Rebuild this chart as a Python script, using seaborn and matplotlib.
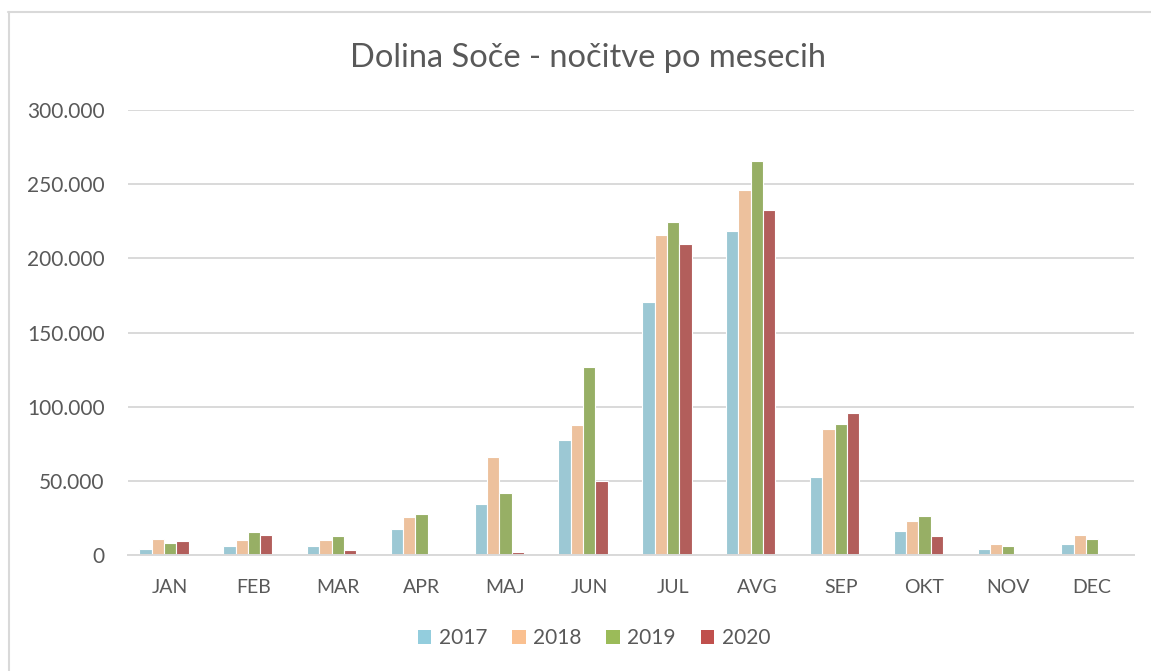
import numpy as np
import pandas as pd
import matplotlib
matplotlib.use("Agg")
import matplotlib.pyplot as plt
from matplotlib.lines import Line2D
from matplotlib.patches import Patch
from matplotlib.ticker import FuncFormatter
import seaborn as sns

# ========================
# DATA
# ========================
months = ["JAN", "FEB", "MAR", "APR", "MAJ", "JUN",
          "JUL", "AVG", "SEP", "OKT", "NOV", "DEC"]
years = ["2017", "2018", "2019", "2020"]

n2017 = [3900, 5900, 5900, 17700, 34200, 77300, 170700, 218400, 52400, 16200, 4000, 7400]
n2018 = [10800, 10100, 10100, 25600, 66000, 87800, 215700, 246100, 85200, 22900, 7400, 13500]
n2019 = [8300, 15300, 12800, 27400, 42000, 126800, 224500, 265800, 88600, 26300, 5900, 10800]
n2020 = [9200, 13500, 3150, np.nan, 2200, 49900, 209600, 232300, 95600, 12600, np.nan, np.nan]

colors = ["#93CDDD", "#FAC090", "#9BBB59", "#C0504D"]

rows = []
for year, vals in zip(years, [n2017, n2018, n2019, n2020]):
    for m, v in zip(months, vals):
        rows.append({"mesec": m, "leto": year, "nocitve": v})
df = pd.DataFrame(rows).dropna()

# ========================
# STYLE
# ========================
sns.set_style("white")
plt.rcParams["font.family"] = ["Lato", "DejaVu Sans"]
text_col = "#595959"
grid_col = "#D9D9D9"

fig = plt.figure(figsize=(11.51, 6.71), dpi=100)
ax = fig.add_axes([0.1115, 0.1729, 0.9852 - 0.1115, 0.836 - 0.1729])

# Excel chart keeps an empty 5th slot in each group
hue_order = years + [" "]
palette = colors + ["#FFFFFF"]
sns.barplot(data=df, x="mesec", y="nocitve", hue="leto", order=months,
            hue_order=hue_order, palette=palette, width=0.734,
            edgecolor="white", linewidth=0.8, legend=False, ax=ax)

ax.set_ylim(0, 300000)
ax.set_xlim(-0.5, 11.5)
ax.set_yticks(np.arange(0, 300001, 50000))
ax.yaxis.set_major_formatter(FuncFormatter(
    lambda v, p: "0" if v == 0 else f"{int(v):,}".replace(",", ".")))
ax.grid(axis="y", color=grid_col, linewidth=1.4)
ax.set_axisbelow(True)
for s in ["top", "right", "left"]:
    ax.spines[s].set_visible(False)
ax.spines["bottom"].set_color(grid_col)
ax.spines["bottom"].set_linewidth(1.4)
ax.tick_params(axis="x", length=0, labelsize=14, colors=text_col, pad=17)
ax.tick_params(axis="y", length=0, labelsize=15, colors=text_col, pad=17)
ax.set_xlabel("")
ax.set_ylabel("")

fig.text(0.5105, 0.9136, "Dolina Soče - nočitve po mesecih",
         ha="center", va="center", fontsize=23.5, color=text_col)

handles = [Patch(facecolor=c, edgecolor="none", label=y) for c, y in zip(colors, years)]
leg = fig.legend(handles=handles, loc="center", bbox_to_anchor=(0.516, 1 - 638 / 671),
                 ncol=4, frameon=False, fontsize=15, handlelength=0.65,
                 handleheight=0.65, handletextpad=0.35, columnspacing=1.2)
for t in leg.get_texts():
    t.set_color(text_col)

# chart frame (only top and left edges are visible in the crop)
fig.add_artist(Line2D([8.5 / 1151, 8.5 / 1151], [0, 1 - 12 / 671],
                      transform=fig.transFigure, color=grid_col, linewidth=1.5))
fig.add_artist(Line2D([8 / 1151, 1], [1 - 12 / 671, 1 - 12 / 671],
                      transform=fig.transFigure, color=grid_col, linewidth=1.5))

fig.savefig("out.png", dpi=100, facecolor="white")
